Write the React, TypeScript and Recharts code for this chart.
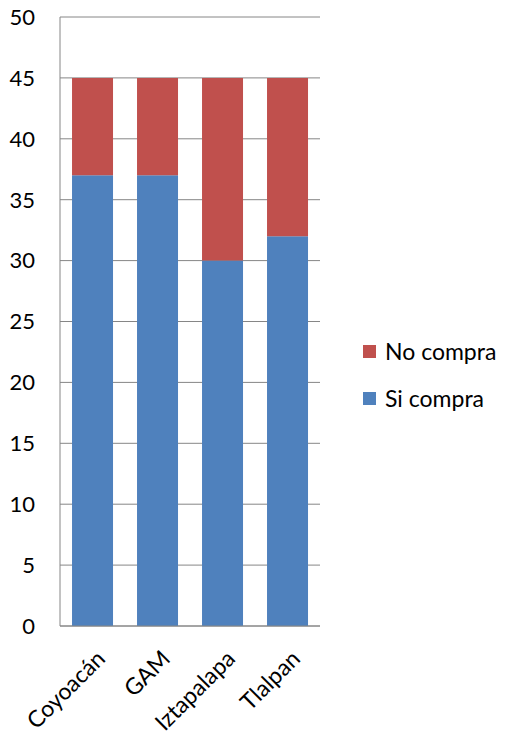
import { BarChart, Bar, XAxis, YAxis, CartesianGrid, Legend } from "recharts";

const categories = ["Coyoacán", "GAM", "Iztapalapa", "Tlalpan"];
const siCompra = [37, 37, 30, 32];
const noCompra = [8, 8, 15, 13];
const yTicks = [0, 5, 10, 15, 20, 25, 30, 35, 40, 45, 50];

const BLUE = "#4F81BD";
const RED = "#C0504D";
const AXIS = "#868686";
const FONT = "Lato, 'Open Sans', sans-serif";

const data = categories.map((name, i) => ({
  name,
  si: siCompra[i],
  no: noCompra[i],
}));

const legendItems = [
  { label: "No compra", color: RED },
  { label: "Si compra", color: BLUE },
];

function CategoryTick({ x, y, payload }: any) {
  const ax = x + 10;
  const ay = y + 22;
  return (
    <text
      x={ax}
      y={ay}
      transform={`rotate(-45, ${ax}, ${ay})`}
      textAnchor="end"
      dominantBaseline="middle"
      fontSize={23}
      fontFamily={FONT}
      fill="#000"
    >
      {payload.value}
    </text>
  );
}

function ChartLegend() {
  return (
    <div style={{ fontFamily: FONT, fontSize: 23, color: "#000" }}>
      {legendItems.map((item) => (
        <div
          key={item.label}
          style={{ display: "flex", alignItems: "center", height: 24, marginBottom: 23 }}
        >
          <span
            style={{
              display: "inline-block",
              width: 13,
              height: 13,
              background: item.color,
              marginRight: 9,
            }}
          />
          {item.label}
        </div>
      ))}
    </div>
  );
}

export default function App() {
  return (
    <div style={{ position: "absolute", left: 0, top: 0, background: "#fff" }}>
      <BarChart
        width={505}
        height={737}
        data={data}
        margin={{ top: 17, right: 185, bottom: 11, left: 0 }}
        barCategoryGap="18.5%"
      >
        <CartesianGrid vertical={false} stroke={AXIS} strokeWidth={1} />
        <XAxis
          dataKey="name"
          height={100}
          interval={0}
          tickLine={false}
          axisLine={{ stroke: AXIS }}
          tick={<CategoryTick />}
        />
        <YAxis
          width={60}
          domain={[0, 50]}
          ticks={yTicks}
          interval={0}
          tickLine={false}
          tickSize={0}
          tickMargin={25}
          axisLine={{ stroke: AXIS }}
          tick={{ fill: "#000", fontSize: 22, fontFamily: FONT }}
        />
        <Legend
          layout="vertical"
          align="center"
          verticalAlign="middle"
          content={<ChartLegend />}
          wrapperStyle={{ left: 363, top: 339, width: 142, height: "auto" }}
        />
        <Bar dataKey="si" name="Si compra" stackId="a" fill={BLUE} isAnimationActive={false} />
        <Bar dataKey="no" name="No compra" stackId="a" fill={RED} isAnimationActive={false} />
      </BarChart>
    </div>
  );
}
